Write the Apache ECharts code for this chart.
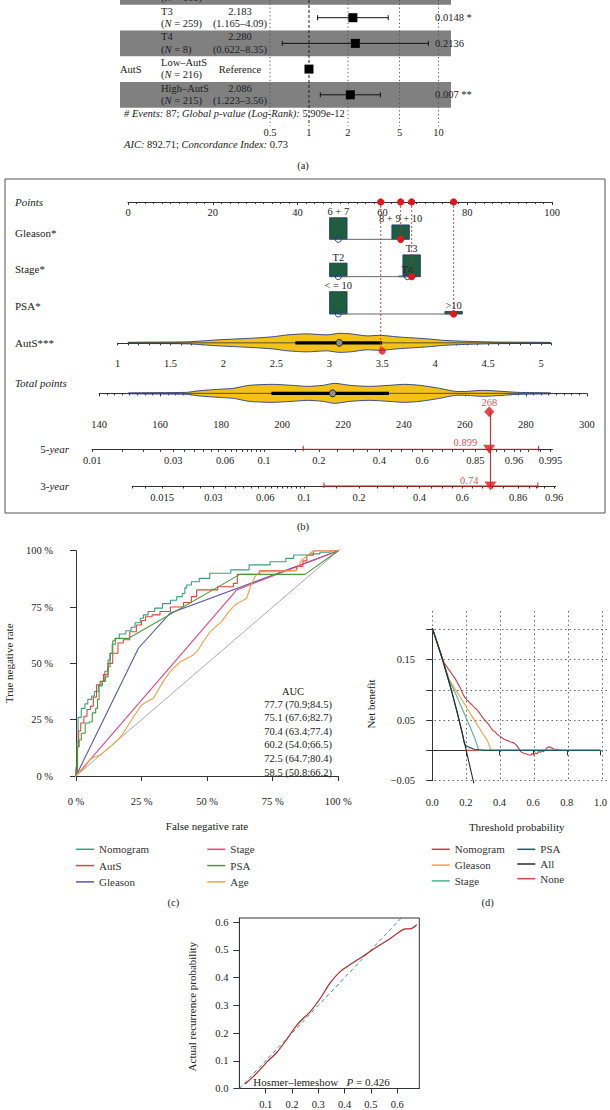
<!DOCTYPE html>
<html><head><meta charset="utf-8">
<script src="https://cdn.jsdelivr.net/npm/echarts@6/dist/echarts.min.js"></script>
<style>html,body{margin:0;padding:0;background:#fff}#c{width:610px;height:1110px}</style>
</head><body><div id="c"></div>
<script>
// ================= DATA =================
// (a) forest plot
const forestGroups = ['T2','T3','T4','Low–AutS','High–AutS'];
const forestVar = ['','','','AutS',''];
const forestN = [161,259,8,216,215];
const forestHR = [1,2.183,2.280,1,2.086];
const forestLo = [null,1.165,0.622,null,1.223];
const forestHi = [null,4.09,8.35,null,3.56];
const forestP = ['','0.0148 *','0.2136','','0.007 **'];
const forestShaded = [true,false,true,false,true];
const forestTicks = [0.5,1,2,5,10];
const forestEvents = 87, forestGlobalP = '5.909e-12', forestAIC = 892.71, forestCindex = 0.73;

// (b) nomogram
const gleasonCats = ['6 + 7','8 + 9 + 10'], gleasonPts = [49.6,64.3], gleasonFreq = [0.60,0.40], gleasonOpen = [1,0], gleasonPick = 1;
const stageCats = ['T2','T3','T4'], stagePts = [49.6,66.9,65.9], stageFreq = [0.376,0.605,0.019], stageOpen = [1,0,1], stagePick = 1;
const psaCats = ['< = 10','>10'], psaPts = [49.6,76.8], psaFreq = [0.62,0.07], psaOpen = [1,0], psaPick = 1;
const autsPick = 3.5, autsPickPts = 59.6;
const autsLabels = [1,1.5,2,2.5,3,3.5,4,4.5,5];
const autsViolinX = [1.10,1.65,1.95,2.24,2.46,2.61,2.79,2.98,3.09,3.20,3.35,3.49,3.64,3.78,3.93,4.08,4.30,4.59,5.09];
const autsViolinD = [0.05,0.10,0.30,0.45,0.60,0.80,0.90,0.80,0.95,0.90,0.70,0.75,0.60,0.50,0.40,0.25,0.15,0.08,0.04];
const autsBox = [2.68,3.095,3.5];
const totalViolinX = [149.5,168.7,172.5,179,184,189.2,196.8,203.2,208.3,213.4,217.2,222.3,228.7,235.1,240.2,245.3,251.7,256.8,260.7,265.8,272.2,277.3,288.2];
const totalViolinD = [0.04,0.10,0.25,0.40,0.50,0.80,0.90,0.80,0.70,0.80,1.00,0.80,0.70,0.80,0.90,0.80,0.50,0.20,0.20,0.30,0.20,0.10,0.04];
const totalBox = [196.5,216.6,235.1];
const totalPick = 268;
const surv5Pick = 0.899, surv5CI = [0.165,0.989];
const surv3Pick = 0.74, surv3CI = [0.129,0.924];
const fiveRange = [0.01,0.9957], threeRange = [0.01,0.9625];
const fiveLabels = [0.01,0.03,0.06,0.1,0.2,0.4,0.6,0.85,0.96,0.995];
const fiveTicks = [0.01,0.015,0.02,0.025,0.03,0.035,0.04,0.045,0.05,0.055,0.06,0.065,0.07,0.075,0.08,0.085,0.09,0.095,0.1,0.15,0.2,0.25,0.3,0.35,0.4,0.45,0.5,0.55,0.6,0.65,0.7,0.75,0.8,0.85,0.9,0.92,0.94,0.96,0.97,0.98,0.99,0.995];
const threeLabels = [0.015,0.03,0.06,0.1,0.2,0.4,0.6,0.86,0.96];
const threeTicks = [0.01,0.012,0.015,0.02,0.025,0.03,0.035,0.04,0.045,0.05,0.055,0.06,0.065,0.07,0.075,0.08,0.085,0.09,0.095,0.1,0.15,0.2,0.25,0.3,0.35,0.4,0.45,0.5,0.55,0.6,0.65,0.7,0.75,0.8,0.86,0.9,0.92,0.94,0.96];

// (c) ROC
const rocNames = ['Nomogram','AutS','Gleason','Stage','PSA','Age'];
const rocNomogram = [[0,0],[0,0.04],[0.004,0.04],[0.004,0.15],[0.008,0.15],[0.008,0.26],[0.02,0.26],[0.02,0.30],[0.034,0.30],[0.034,0.32],[0.045,0.32],[0.045,0.34],[0.06,0.34],[0.06,0.355],[0.07,0.355],[0.07,0.375],[0.085,0.375],[0.085,0.40],[0.10,0.40],[0.10,0.42],[0.11,0.42],[0.11,0.465],[0.122,0.465],[0.122,0.515],[0.13,0.515],[0.13,0.545],[0.138,0.545],[0.138,0.585],[0.15,0.585],[0.15,0.61],[0.165,0.61],[0.165,0.63],[0.19,0.63],[0.19,0.645],[0.21,0.645],[0.21,0.66],[0.225,0.66],[0.225,0.68],[0.245,0.68],[0.245,0.70],[0.257,0.70],[0.257,0.715],[0.275,0.715],[0.275,0.73],[0.30,0.73],[0.30,0.745],[0.33,0.745],[0.33,0.765],[0.36,0.765],[0.36,0.78],[0.384,0.78],[0.384,0.796],[0.405,0.796],[0.405,0.81],[0.415,0.81],[0.415,0.835],[0.422,0.835],[0.422,0.848],[0.44,0.848],[0.44,0.862],[0.47,0.862],[0.47,0.877],[0.51,0.877],[0.51,0.90],[0.59,0.90],[0.59,0.915],[0.66,0.915],[0.66,0.937],[0.74,0.937],[0.74,0.951],[0.80,0.951],[0.80,0.966],[0.83,0.966],[0.83,0.981],[0.89,0.981],[0.89,0.986],[0.93,0.986],[0.93,0.993],[0.97,0.993],[0.97,1],[1,1]];
const rocAutS = [[0,0],[0,0.03],[0.005,0.03],[0.005,0.13],[0.01,0.13],[0.01,0.20],[0.018,0.20],[0.018,0.235],[0.03,0.235],[0.03,0.265],[0.042,0.265],[0.042,0.295],[0.055,0.295],[0.055,0.31],[0.066,0.31],[0.066,0.35],[0.078,0.35],[0.078,0.405],[0.092,0.405],[0.092,0.42],[0.105,0.42],[0.105,0.45],[0.122,0.45],[0.122,0.50],[0.14,0.50],[0.14,0.545],[0.16,0.545],[0.16,0.59],[0.18,0.59],[0.18,0.605],[0.205,0.605],[0.205,0.64],[0.23,0.64],[0.23,0.67],[0.25,0.67],[0.25,0.69],[0.265,0.69],[0.265,0.707],[0.29,0.707],[0.29,0.715],[0.32,0.715],[0.32,0.73],[0.36,0.73],[0.36,0.75],[0.41,0.75],[0.41,0.77],[0.44,0.77],[0.44,0.796],[0.46,0.796],[0.46,0.826],[0.54,0.826],[0.54,0.84],[0.60,0.84],[0.60,0.855],[0.615,0.855],[0.615,0.895],[0.70,0.895],[0.70,0.911],[0.84,0.911],[0.84,0.93],[0.865,0.93],[0.865,0.955],[0.88,0.955],[0.88,0.98],[0.905,0.98],[0.905,1],[1,1]];
const rocGleason = [[0,0],[0.238,0.567],[0.358,0.722],[1,1]];
const rocStage = [[0,0],[0.613,0.826],[1,1]];
const rocPSA = [[0,0],[0,0.02],[0.006,0.02],[0.006,0.13],[0.012,0.13],[0.012,0.16],[0.02,0.16],[0.02,0.19],[0.035,0.19],[0.035,0.235],[0.05,0.235],[0.05,0.24],[0.062,0.24],[0.062,0.28],[0.075,0.28],[0.075,0.30],[0.082,0.30],[0.082,0.34],[0.088,0.34],[0.088,0.405],[0.10,0.405],[0.10,0.42],[0.112,0.42],[0.112,0.44],[0.122,0.44],[0.122,0.485],[0.13,0.485],[0.13,0.545],[0.14,0.545],[0.14,0.60],[0.149,0.60],[0.149,0.611],[0.20,0.611],[0.625,0.895],[0.873,0.895],[1,1]];
const rocAge = [[0,0],[0.008,0.012],[0.015,0.02],[0.03,0.03],[0.045,0.06],[0.06,0.078],[0.075,0.085],[0.092,0.093],[0.13,0.13],[0.16,0.16],[0.18,0.19],[0.215,0.255],[0.25,0.315],[0.27,0.33],[0.295,0.345],[0.315,0.385],[0.333,0.42],[0.36,0.465],[0.397,0.507],[0.42,0.52],[0.447,0.537],[0.466,0.56],[0.49,0.605],[0.511,0.64],[0.535,0.665],[0.555,0.685],[0.58,0.725],[0.606,0.759],[0.63,0.775],[0.651,0.789],[0.665,0.84],[0.682,0.885],[0.701,0.907],[0.75,0.907],[0.79,0.91],[0.84,0.912],[0.85,0.935],[0.86,0.959],[0.88,0.975],[0.9,0.996],[0.92,1],[1,1]];
const rocDiag = [[-0.04,-0.04],[1.04,1.04]];
const aucVal = [77.7,75.1,70.4,60.2,72.5,58.5];
const aucLo = [70.9,67.6,63.4,54.0,64.7,50.8];
const aucHi = [84.5,82.7,77.4,66.5,80.4,66.2];

// (d) decision curves
const dcaNomogram = [[0,0.202],[0.02,0.186],[0.04,0.169],[0.055,0.156],[0.065,0.147],[0.075,0.143],[0.085,0.139],[0.094,0.135],[0.105,0.131],[0.115,0.127],[0.124,0.123],[0.135,0.119],[0.147,0.113],[0.159,0.107],[0.17,0.101],[0.181,0.094],[0.192,0.088],[0.205,0.084],[0.215,0.081],[0.225,0.078],[0.237,0.075],[0.25,0.071],[0.262,0.068],[0.275,0.064],[0.29,0.058],[0.30,0.054],[0.31,0.051],[0.322,0.047],[0.335,0.043],[0.349,0.037],[0.36,0.033],[0.372,0.031],[0.385,0.027],[0.398,0.024],[0.41,0.022],[0.425,0.019],[0.438,0.017],[0.45,0.016],[0.465,0.014],[0.48,0.013],[0.496,0.010],[0.505,0.007],[0.515,0.003],[0.526,-0.002],[0.537,-0.004],[0.548,-0.005],[0.56,-0.006],[0.572,-0.007],[0.585,-0.008],[0.595,-0.005],[0.603,-0.007],[0.612,-0.004],[0.622,-0.006],[0.632,-0.002],[0.643,-0.003],[0.652,-0.001],[0.662,-0.002],[0.672,0.001],[0.682,0.004],[0.692,0.006],[0.702,0.005],[0.712,0.004],[0.722,0.002],[0.732,0.002],[0.741,0.002],[0.75,0.001],[0.76,0]];
const dcaGleason = [[0,0.202],[0.06,0.151],[0.10,0.117],[0.15,0.095],[0.20,0.073],[0.25,0.050],[0.30,0.028],[0.33,0.015],[0.349,0],[1,0]];
const dcaStage = [[0,0.202],[0.06,0.151],[0.10,0.116],[0.14,0.093],[0.182,0.066],[0.22,0.042],[0.257,0.017],[0.276,0],[1,0]];
const dcaPSA = [[0,0.202],[0.06,0.151],[0.12,0.093],[0.18,0.027],[0.19,0.012],[0.20,0.008],[0.22,0.005],[0.25,0.002],[0.28,0.001],[0.31,0],[1,0]];
const dcaAll = [[0,0.202],[0.05,0.160],[0.10,0.113],[0.15,0.061],[0.20,0.002],[0.247,-0.0545]];
const dcaNone = [[0.2,0],[1,0]];

// (e) calibration
const calX = [0.021,0.053,0.08,0.104,0.142,0.18,0.205,0.23,0.268,0.306,0.345,0.383,0.427,0.465,0.509,0.56,0.604,0.63,0.649,0.674];
const calY = [0.016,0.043,0.07,0.095,0.13,0.177,0.212,0.241,0.276,0.323,0.381,0.422,0.451,0.474,0.503,0.533,0.562,0.576,0.576,0.591];
const calIdeal = [[0,0],[0.7,0.7]];
const calTicks = [0.1,0.2,0.3,0.4,0.5,0.6];
const calYTicks = [0,0.1,0.2,0.3,0.4,0.5,0.6];
const hlP = 0.426;

// ================= HELPERS / STYLE =================
const FONT = '"Liberation Serif","Times New Roman",serif';
const TXT = '#222', RED = '#E3161B', AX = '#333';
const lg = Math.log10;
const cll = p => Math.log(-Math.log(1 - p));
const fnt = (s, it) => (it ? 'italic ' : '') + s + 'px ' + FONT;
function T(text, x, y, o) {
  o = o || {};
  const al = o.align || 'left';
  const el = {type:'text', x:x, y:y, rotation:o.rotation || 0, silent:true,
    style:{text:text, font:o.font || fnt(o.size || 10.5, o.italic), fill:o.color || TXT,
      align:al, textAlign:al, verticalAlign:'middle', textVerticalAlign:'middle'}};
  if (o.rich) el.style.rich = o.rich;
  if (o.z != null) el.z = o.z;
  return el;
}
const RICH = s => ({i:{font:fnt(s,true), fill:TXT}, r:{font:fnt(s,false), fill:TXT}});
const AXL = {fontFamily:FONT, fontSize:10.5, color:TXT};
const nearestLabel = (labels, v) => { let b = labels[0]; labels.forEach(l => { if (Math.abs(cll(l) - v) < Math.abs(cll(b) - v)) b = l; }); return String(b); };

// layout constants
const ROW_Y0 = -8, ROW_H = 25.7, FOREST_TOP = 0, FOREST_BOT = 126;
const RMIN = (FOREST_TOP - ROW_Y0) / ROW_H, RMAX = (FOREST_BOT - ROW_Y0) / ROW_H;
const BAND_L = 120, BAND_R = 451, COL_VAR = 120, COL_GRP = 161, COL_HR = 240, COL_P = 435;
const BOX_W = 17.5, BOX_SCALE = 36, VIOLIN_HALF = 10;

// ================= RENDERERS =================
function forestBand(params, api) {
  const i = params.dataIndex;
  if (!forestShaded[i]) return {type:'group', children:[]};
  const y = api.coord([api.value(0), api.value(1)])[1];
  return {type:'rect', shape:{x:BAND_L, y:y - ROW_H / 2, width:BAND_R - BAND_L, height:ROW_H}, style:{fill:'#808080'}};
}
function forestGuide(params, api) {
  const x = api.coord([api.value(0), RMIN])[0];
  const cs = params.coordSys;
  const isOne = Math.abs(api.value(0)) < 1e-9;
  return {type:'line', shape:{x1:x, y1:cs.y, x2:x, y2:cs.y + cs.height},
    style:{stroke:isOne ? '#222' : '#555', lineWidth:1, lineDash:isOne ? [3,2] : [1.2,2.6]}};
}
function forestMark(params, api) {
  const i = params.dataIndex;
  const c = api.coord([api.value(0), api.value(1)]);
  const y = c[1], tl = y - 6.7, bl = y + 5.6;
  const ch = [];
  const put = (el, yy) => { if (yy > -4) ch.push(el); };
  if (forestVar[i]) put(T(forestVar[i], COL_VAR, y), y);
  put(T(forestGroups[i], COL_GRP, tl), tl);
  put(T('({i|N} = ' + forestN[i] + ')', COL_GRP, bl, {rich:RICH(10.5)}), bl);
  if (forestLo[i] == null) {
    put(T('Reference', COL_HR, y, {align:'center'}), y);
  } else {
    put(T(forestHR[i].toFixed(3), COL_HR, tl, {align:'center'}), tl);
    put(T('(' + forestLo[i] + '–' + forestHi[i] + ')', COL_HR, bl, {align:'center'}), bl);
    const lo = api.coord([api.value(2), api.value(1)])[0], hi = api.coord([api.value(3), api.value(1)])[0];
    ch.push({type:'line', shape:{x1:lo, y1:y, x2:hi, y2:y}, style:{stroke:'#111', lineWidth:1}});
    ch.push({type:'line', shape:{x1:lo, y1:y - 2.5, x2:lo, y2:y + 2.5}, style:{stroke:'#111', lineWidth:1}});
    ch.push({type:'line', shape:{x1:hi, y1:y - 2.5, x2:hi, y2:y + 2.5}, style:{stroke:'#111', lineWidth:1}});
  }
  if (forestP[i]) put(T(forestP[i], COL_P, y), y);
  ch.push({type:'rect', shape:{x:c[0] - 4.5, y:y - 4.5, width:9, height:9}, style:{fill:'#000'}});
  return {type:'group', children:ch};
}
const nomVars = [
  {cats:gleasonCats, pts:gleasonPts, freq:gleasonFreq, open:gleasonOpen, pick:gleasonPick},
  {cats:stageCats, pts:stagePts, freq:stageFreq, open:stageOpen, pick:stagePick},
  {cats:psaCats, pts:psaPts, freq:psaFreq, open:psaOpen, pick:psaPick}
];
function nomRow(params, api) {
  const v = nomVars[params.dataIndex];
  const row = api.value(1);
  const y = api.coord([0, row])[1];
  const xs = v.pts.map(p => api.coord([p, row])[0]);
  const ch = [];
  xs.forEach((x, k) => {
    const h = v.freq[k] * BOX_SCALE;
    ch.push({type:'rect', shape:{x:x - BOX_W / 2, y:y - h, width:BOX_W, height:h}, style:{fill:'#1E5E3F', stroke:'#1E2F78', lineWidth:0.8}});
  });
  ch.push({type:'line', shape:{x1:Math.min(...xs), y1:y, x2:Math.max(...xs), y2:y}, style:{stroke:'#666', lineWidth:1}});
  xs.forEach((x, k) => {
    const h = v.freq[k] * BOX_SCALE;
    ch.push(T(v.cats[k], x, y - h - 6, {align:'center'}));
    if (v.open[k]) ch.push({type:'circle', shape:{cx:x, cy:y, r:3}, style:{fill:'none', stroke:'#2236A8', lineWidth:1}});
  });
  ch.push({type:'circle', shape:{cx:xs[v.pick], cy:y, r:3.6}, style:{fill:RED}});
  return {type:'group', children:ch};
}
function nomSelect(params, api) {
  const a = api.coord([api.value(0), 0]), b = api.coord([api.value(0), api.value(1)]);
  return {type:'group', children:[
    {type:'line', shape:{x1:a[0], y1:a[1], x2:b[0], y2:b[1]}, style:{stroke:RED, lineWidth:0.8, lineDash:[2,2]}},
    {type:'circle', shape:{cx:a[0], cy:a[1], r:3.6}, style:{fill:RED}}
  ]};
}
function violin(xs, ds, box) {
  return function (params, api) {
    const top = [], bot = [];
    xs.forEach((x, k) => {
      const c = api.coord([x, 0]); const h = ds[k] * VIOLIN_HALF;
      top.push([c[0], c[1] - h]); bot.push([c[0], c[1] + h]);
    });
    const pts = top.concat(bot.reverse());
    const cs = api.coord([xs[0], 0]), ce = api.coord([xs[xs.length - 1], 0]);
    const q1 = api.coord([box[0], 0]), md = api.coord([box[1], 0]), q3 = api.coord([box[2], 0]);
    return {type:'group', children:[
      {type:'polygon', shape:{points:pts, smooth:0.25}, style:{fill:'#F2C316', stroke:'#283C8C', lineWidth:0.9}},
      {type:'line', shape:{x1:cs[0], y1:cs[1], x2:ce[0], y2:ce[1]}, style:{stroke:'#333', lineWidth:0.8}},
      {type:'line', shape:{x1:q1[0], y1:q1[1], x2:q3[0], y2:q3[1]}, style:{stroke:'#000', lineWidth:3.2}},
      {type:'circle', shape:{cx:md[0], cy:md[1], r:3.4}, style:{fill:'#8E8E8E', stroke:'#111', lineWidth:0.9}}
    ]};
  };
}
function ciItem(params, api) {
  const a = api.coord([api.value(0), 0]), b = api.coord([api.value(1), 0]);
  const s = {stroke:RED, lineWidth:1};
  return {type:'group', children:[
    {type:'line', shape:{x1:a[0], y1:a[1], x2:b[0], y2:b[1]}, style:s},
    {type:'line', shape:{x1:a[0], y1:a[1] - 3.5, x2:a[0], y2:a[1] + 2}, style:s},
    {type:'line', shape:{x1:b[0], y1:b[1] - 3.5, x2:b[0], y2:b[1] + 2}, style:s}
  ]};
}

// ================= AXES =================
const hidden = (gi, min, max, inv) => ({gridIndex:gi, type:'value', min:min, max:max, inverse:!!inv, show:false});
const lineAx = {lineStyle:{color:AX, width:1}};
const noSplit = {show:false};
const autsTicks = Array.from({length:42}, (_, k) => +(1 + k * 0.1).toFixed(1));

const xAxis = [
  {gridIndex:0, type:'value', min:lg(0.5), max:lg(10), axisLine:{show:false}, axisTick:{show:false}, splitLine:noSplit,
   axisLabel:Object.assign({customValues:forestTicks.map(lg), margin:1, formatter:v => String(+Math.pow(10, v).toPrecision(3))}, AXL)},
  {gridIndex:1, type:'value', position:'top', min:0, max:100, interval:20, axisLine:lineAx, splitLine:noSplit,
   axisTick:{inside:true, length:3, lineStyle:{color:AX}}, minorTick:{show:true, splitNumber:10, length:2, lineStyle:{color:AX}},
   axisLabel:Object.assign({inside:true, margin:5}, AXL)},
  {gridIndex:2, type:'value', min:1, max:5.1, axisLine:lineAx, splitLine:noSplit,
   axisTick:{length:2.5, customValues:autsTicks, lineStyle:{color:AX}},
   axisLabel:Object.assign({customValues:autsLabels, margin:6.5}, AXL)},
  {gridIndex:3, type:'value', min:140, max:300, interval:20, axisLine:lineAx, splitLine:noSplit,
   axisTick:{length:3, lineStyle:{color:AX}}, minorTick:{show:true, splitNumber:8, length:2, lineStyle:{color:AX}},
   axisLabel:Object.assign({margin:7}, AXL)},
  {gridIndex:4, type:'value', min:cll(fiveRange[0]), max:cll(fiveRange[1]), axisLine:lineAx, splitLine:noSplit,
   axisTick:{length:2.5, customValues:fiveTicks.map(cll), lineStyle:{color:AX}},
   axisLabel:Object.assign({customValues:fiveLabels.map(cll), margin:5.5, formatter:v => nearestLabel(fiveLabels, v)}, AXL)},
  {gridIndex:5, type:'value', min:cll(threeRange[0]), max:cll(threeRange[1]), axisLine:lineAx, splitLine:noSplit,
   axisTick:{length:2.5, customValues:threeTicks.map(cll), lineStyle:{color:AX}},
   axisLabel:Object.assign({customValues:threeLabels.map(cll), margin:6, formatter:v => nearestLabel(threeLabels, v)}, AXL)},
  {gridIndex:6, type:'value', min:0, max:1, interval:0.25, offset:10.7, axisLine:lineAx, splitLine:noSplit,
   axisTick:{length:5, lineStyle:{color:AX}}, axisLabel:Object.assign({margin:9, formatter:v => Math.round(v * 100) + ' %'}, AXL)},
  {gridIndex:7, type:'value', min:0, max:1, interval:0.2, axisLine:{show:false}, axisTick:{show:false}, axisLabel:{show:false},
   splitLine:{show:true, lineStyle:{color:'#666', type:[1.5,3], width:1}}},
  {gridIndex:8, type:'value', min:0, max:1, interval:0.2, offset:7.6, axisLine:lineAx, splitLine:noSplit,
   axisTick:{length:5, lineStyle:{color:AX}}, axisLabel:Object.assign({margin:8.5, formatter:v => v.toFixed(1)}, AXL)},
  {gridIndex:9, type:'value', min:0, max:0.684, axisLine:lineAx, splitLine:noSplit,
   axisTick:{length:5, customValues:calTicks, lineStyle:{color:AX}},
   axisLabel:Object.assign({customValues:calTicks, margin:10.5, formatter:v => v.toFixed(1)}, AXL)},
  {gridIndex:10, type:'value', min:0, max:1, interval:0.2, axisLine:{show:false}, axisTick:{show:false}, axisLabel:{show:false}, splitLine:noSplit}
];
const yAxis = [
  hidden(0, RMIN, RMAX, true),
  hidden(1, 0, 3, true),
  hidden(2, -1, 1),
  hidden(3, -1, 1),
  hidden(4, 0, 1),
  hidden(5, 0, 1),
  {gridIndex:6, type:'value', min:0, max:1, interval:0.25, offset:11, axisLine:lineAx, splitLine:noSplit,
   axisTick:{length:6, lineStyle:{color:AX}}, axisLabel:Object.assign({margin:12, formatter:v => Math.round(v * 100) + ' %'}, AXL)},
  hidden(7, 0, 1),
  {gridIndex:8, type:'value', min:-0.05, max:0.2, interval:0.05, offset:7.3, axisLine:lineAx,
   splitLine:noSplit,
   axisTick:{length:6, lineStyle:{color:AX}},
   axisLabel:Object.assign({margin:10, formatter:v => { const r = Math.round(v * 100); return r === 15 ? '0.15' : r === 5 ? '0.05' : r === -5 ? '−0.05' : ''; }}, AXL)},
  {gridIndex:9, type:'value', min:0, max:0.6154, axisLine:lineAx, splitLine:noSplit,
   axisTick:{length:6, customValues:calYTicks, lineStyle:{color:AX}},
   axisLabel:Object.assign({customValues:calYTicks, margin:11, formatter:v => v.toFixed(1)}, AXL)},
  {gridIndex:10, type:'value', min:-0.05, max:0.2, interval:0.05, axisLine:{show:false}, axisTick:{show:false}, axisLabel:{show:false},
   splitLine:{show:true, lineStyle:{color:'#666', type:[1.5,3], width:1}}}
];

// ================= SERIES =================
const rocColors = ['#3AA07A','#E0473A','#5A55AA','#E8457A','#4C9A3C','#F2A044'];
const rocData = [rocNomogram, rocAutS, rocGleason, rocStage, rocPSA, rocAge];
const dcaNames = ['Nomogram','Gleason','Stage','PSA','All','None'];
const dcaColors = ['#CC3B3B','#F5A04A','#4DB38F','#1D5B5B','#2B2B2B','#CF4B4B'];
const dcaData = [dcaNomogram, dcaGleason, dcaStage, dcaPSA, dcaAll, dcaNone];
const dcaOrder = [5, 0, 1, 2, 3, 4];

const series = [
  {type:'custom', name:'bands', xAxisIndex:0, yAxisIndex:0, z:1, clip:false, silent:true,
   data:forestGroups.map((g, i) => [lg(1), i]), renderItem:forestBand},
  {type:'custom', name:'guides', xAxisIndex:0, yAxisIndex:0, z:2, clip:false, silent:true,
   data:forestTicks.map(v => [lg(v), RMIN]), renderItem:forestGuide},
  {type:'custom', name:'forest', xAxisIndex:0, yAxisIndex:0, z:3, clip:false, silent:true,
   data:forestGroups.map((g, i) => [lg(forestHR[i]), i, lg(forestLo[i] == null ? forestHR[i] : forestLo[i]), lg(forestHi[i] == null ? forestHR[i] : forestHi[i])]),
   renderItem:forestMark},
  {type:'custom', name:'nomRows', xAxisIndex:1, yAxisIndex:1, clip:false, silent:true,
   data:nomVars.map((v, i) => [v.pts[0], i + 1]), renderItem:nomRow},
  {type:'custom', name:'nomSel', xAxisIndex:1, yAxisIndex:1, clip:false, silent:true, z:3,
   data:[[autsPickPts, 4], [gleasonPts[gleasonPick], 1], [stagePts[stagePick], 2], [psaPts[psaPick], 3]], renderItem:nomSelect},
  {type:'custom', name:'autsViolin', xAxisIndex:2, yAxisIndex:2, clip:false, silent:true,
   data:[[autsViolinX[0], 0]], renderItem:violin(autsViolinX, autsViolinD, autsBox)},
  {type:'scatter', name:'autsPick', xAxisIndex:2, yAxisIndex:2, silent:true, z:4, symbol:'circle', symbolSize:7.2,
   itemStyle:{color:RED}, data:[[autsPick, -1]]},
  {type:'custom', name:'totalViolin', xAxisIndex:3, yAxisIndex:3, clip:false, silent:true,
   data:[[totalViolinX[0], 0]], renderItem:violin(totalViolinX, totalViolinD, totalBox)},
  {type:'line', name:'riskLine', xAxisIndex:5, yAxisIndex:5, clip:false, silent:true, showSymbol:false, symbol:'none',
   lineStyle:{color:RED, width:1}, data:[[cll(surv3Pick), 0], [cll(surv3Pick), 1]], z:3},
  {type:'scatter', name:'totalPick', xAxisIndex:3, yAxisIndex:3, silent:true, z:5, symbol:'diamond', symbolSize:[10,11],
   itemStyle:{color:RED}, data:[[totalPick, -1]],
   label:{show:true, position:'top', distance:0, offset:[0,1.5], formatter:String(totalPick), color:RED, fontFamily:FONT, fontSize:10.5}},
  {type:'custom', name:'ci5', xAxisIndex:4, yAxisIndex:4, clip:false, silent:true, z:3,
   data:[[cll(surv5CI[0]), cll(surv5CI[1])]], renderItem:ciItem},
  {type:'scatter', name:'pick5', xAxisIndex:4, yAxisIndex:4, silent:true, z:5, symbol:'triangle', symbolRotate:180, symbolSize:[12,9],
   itemStyle:{color:RED}, data:[[cll(surv5Pick), 0]],
   label:{show:true, position:'left', distance:6, offset:[0,-6.5], formatter:String(surv5Pick), color:RED, fontFamily:FONT, fontSize:10.5}},
  {type:'custom', name:'ci3', xAxisIndex:5, yAxisIndex:5, clip:false, silent:true, z:3,
   data:[[cll(surv3CI[0]), cll(surv3CI[1])]], renderItem:ciItem},
  {type:'scatter', name:'pick3', xAxisIndex:5, yAxisIndex:5, silent:true, z:5, symbol:'triangle', symbolRotate:180, symbolSize:[12,9],
   itemStyle:{color:RED}, data:[[cll(surv3Pick), 0]],
   label:{show:true, position:'left', distance:6, offset:[0,-5.5], formatter:String(surv3Pick), color:RED, fontFamily:FONT, fontSize:10.5}},
  {type:'line', name:'rocDiag', xAxisIndex:6, yAxisIndex:6, clip:false, silent:true, showSymbol:false, symbol:'none',
   lineStyle:{color:'#AAAAAA', width:1}, data:rocDiag}
];
rocNames.forEach((n, i) => series.push({type:'line', name:'roc:' + n, xAxisIndex:6, yAxisIndex:6, silent:true,
  showSymbol:false, symbol:'none', color:rocColors[i], lineStyle:{color:rocColors[i], width:1.1}, data:rocData[i]}));
dcaOrder.forEach(i => series.push({type:'line', name:'dca:' + dcaNames[i], xAxisIndex:8, yAxisIndex:8, silent:true, clip:false,
  showSymbol:false, symbol:'none', color:dcaColors[i], lineStyle:{color:dcaColors[i], width:1.1}, data:dcaData[i]}));
series.push({type:'line', name:'calIdeal', xAxisIndex:9, yAxisIndex:9, silent:true, showSymbol:false, symbol:'none',
  lineStyle:{color:'#3E9A6E', width:1, type:[4,3]}, data:calIdeal});
series.push({type:'line', name:'calCurve', xAxisIndex:9, yAxisIndex:9, silent:true, showSymbol:false, symbol:'none', smooth:0.3,
  lineStyle:{color:'#B02A2E', width:1.2}, data:calX.map((x, i) => [x, calY[i]])});

// ================= LEGENDS =================
const legBase = {orient:'vertical', icon:'rect', itemWidth:18, itemHeight:1.5, padding:0, selectedMode:false,
  formatter:n => n.split(':')[1], textStyle:{fontFamily:FONT, fontSize:11, color:'#333'}};
const legend = [
  Object.assign({}, legBase, {left:76, top:843.8, itemGap:5.3, data:['roc:Nomogram','roc:AutS','roc:Gleason']}),
  Object.assign({}, legBase, {left:207.3, top:843.8, itemGap:5.3, data:['roc:Stage','roc:PSA','roc:Age']}),
  Object.assign({}, legBase, {left:431.7, top:843.8, itemGap:4.8, data:['dca:Nomogram','dca:Gleason','dca:Stage']}),
  Object.assign({}, legBase, {left:517.3, top:843.8, itemGap:3.7, data:['dca:PSA','dca:All','dca:None']})
];

// ================= ANNOTATIONS =================
const R105 = RICH(10.5), R11 = RICH(11);
const graphic = [
  T('{i|# Events:} ' + forestEvents + '; {i|Global p-value (Log-Rank):} ' + forestGlobalP, 124, 113, {rich:R105, z:20}),
  T('{i|AIC:} ' + forestAIC + '; {i|Concordance Index:} ' + forestCindex, 124, 144, {rich:R105, z:20}),
  T('(a)', 303, 165, {align:'center', z:20}),
  {type:'rect', z:20, silent:true, shape:{x:5, y:179, width:600, height:334}, style:{fill:'none', stroke:'#555', lineWidth:1}},
  T('Points', 15, 202, {italic:true, size:11, z:20}),
  T('Gleason*', 15, 232.7, {size:11, z:20}),
  T('Stage*', 15, 269, {size:11, z:20}),
  T('PSA*', 15, 305.7, {size:11, z:20}),
  T('AutS***', 15, 342.7, {size:11, z:20}),
  T('Total points', 15, 382.7, {italic:true, size:11, z:20}),
  T('5-{i|year}', 69, 449.3, {align:'right', size:11, rich:R11, z:20}),
  T('3-{i|year}', 69, 486, {align:'right', size:11, rich:R11, z:20}),
  T('(b)', 303, 526, {align:'center', z:20}),
  T('True negative rate', 8.5, 663.3, {align:'center', size:11, rotation:Math.PI / 2, z:20}),
  T('False negative rate', 207, 826, {align:'center', size:11, z:20}),
  T('AUC', 293, 691.7, {align:'center', size:10.5, z:20}),
  T('(c)', 173.3, 902.7, {align:'center', z:20}),
  T('Net benefit', 371, 704, {align:'center', size:11, rotation:Math.PI / 2, z:20}),
  T('Threshold probability', 516.7, 826.7, {align:'center', size:11, z:20}),
  T('(d)', 487.7, 902.7, {align:'center', z:20}),
  T('Actual recurrence probability', 191.7, 1006.7, {align:'center', size:11, rotation:Math.PI / 2, z:20}),
  T('Hosmer–lemeshow   {i|P} = ' + hlP, 253.3, 1081.7, {size:11, rich:R11, z:20})
];
aucVal.forEach((v, i) => graphic.push(T(v.toFixed(1) + ' (' + aucLo[i].toFixed(1) + ';' + aucHi[i].toFixed(1) + ')', 264.3, 704 + i * 13.65, {size:10.5, z:20})));

// ================= CHART =================
const chart = echarts.init(document.getElementById('c'), null, {renderer:'svg', width:610, height:1110});
chart.setOption({
  backgroundColor:'#ffffff',
  animation:false,
  textStyle:{fontFamily:FONT},
  grid:[
    {left:270, top:FOREST_TOP, width:168.5, height:FOREST_BOT - FOREST_TOP},
    {left:128, top:202, width:424, height:112},
    {left:117.5, top:334.7, width:434.1, height:16.3},
    {left:99.2, top:375, width:487.6, height:36.7},
    {left:92.2, top:411.7, width:460.3, height:37.6},
    {left:132.3, top:411.7, width:423.3, height:74.3},
    {left:76, top:550.7, width:262.3, height:225.3},
    {left:432.3, top:611, width:170, height:171},
    {left:432.3, top:629.3, width:170, height:151.4},
    {left:239.4, top:918, width:179.9, height:176, show:true, borderColor:'#333', borderWidth:1, backgroundColor:'transparent'},
    {left:430, top:629.3, width:180, height:151.4}
  ],
  xAxis:xAxis, yAxis:yAxis, series:series, legend:legend, graphic:graphic
});
</script></body></html>
